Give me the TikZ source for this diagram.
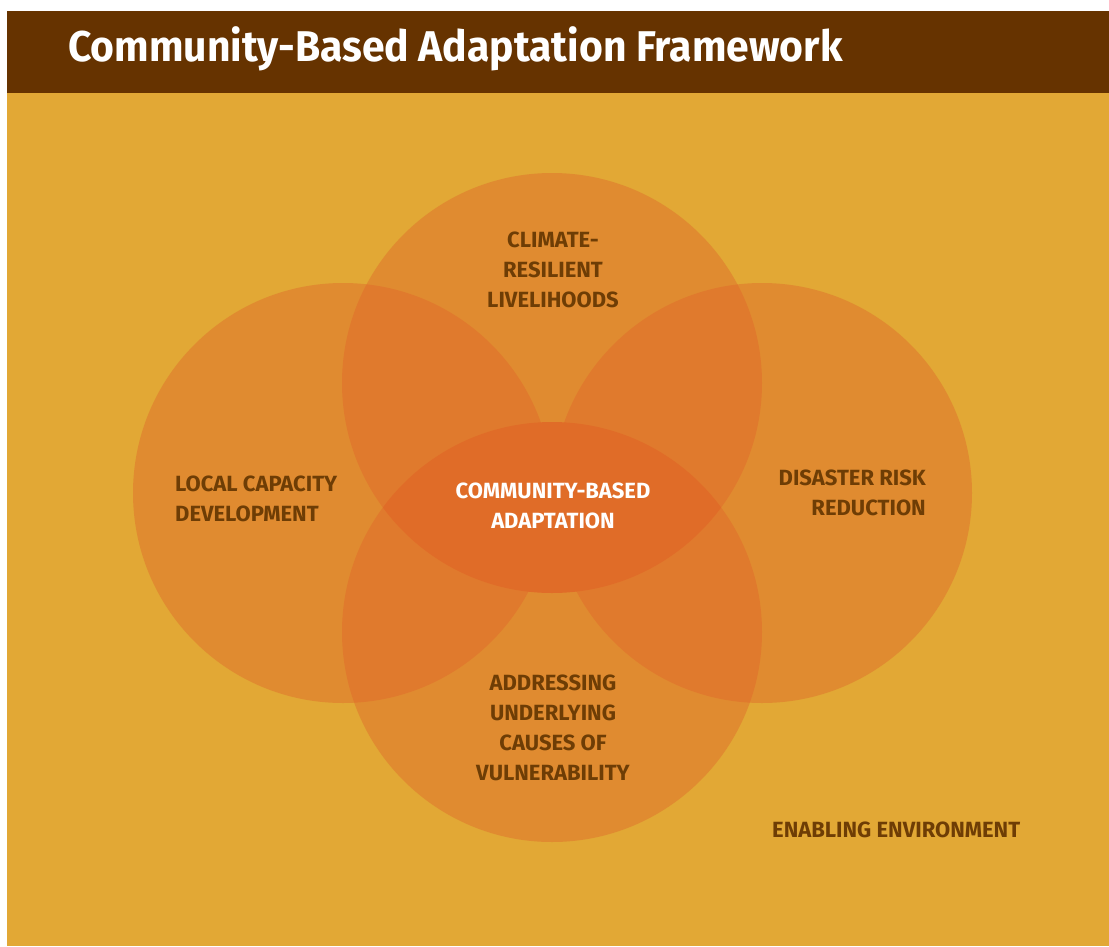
\documentclass[tikz,border=0pt]{standalone}
\usepackage{fontspec}
\setmainfont{Fira Sans}
\newfontfamily\headfont{Fira Sans}[FakeStretch=0.95]
\usetikzlibrary{positioning}
\definecolor{framebrown}{HTML}{663300}
\definecolor{bgyellow}{HTML}{E2A835}
\definecolor{ringorange}{HTML}{E08B30}
\definecolor{overlaporange}{HTML}{E07A2D}
\definecolor{coreorange}{HTML}{E06C28}
\definecolor{textbrown}{HTML}{6E3D05}
\tikzstyle{titletext} = [text=white, font=\headfont\bfseries\fontsize{43}{50}\selectfont, inner sep=0pt]
\tikzstyle{ringtext} = [text=textbrown, font=\bfseries\fontsize{22}{30}\selectfont, align=center, inner sep=0pt]
\def\ringr{210pt}

\begin{document}
\begin{tikzpicture}[x=1pt, y=-1pt]
  \useasboundingbox (0,0) rectangle (1109,946);
  \fill[white] (0,0) rectangle (1109,946);
  \fill[bgyellow] (7,93) rectangle (1109,946);
  \fill[framebrown] (7,11) rectangle (1109,93);
  \node[titletext, anchor=west] (title) at (68,49) {Community-Based Adaptation Framework};

  \coordinate (climate) at (552,383);
  \coordinate (capacity) at (343,493);
  \coordinate (risk) at (762,493);
  \coordinate (causes) at (552,632);

  % the four rings
  \foreach \p in {climate,capacity,risk,causes}
    \fill[ringorange] (\p) circle (\ringr);
  % where two rings meet
  \foreach \a/\b in {climate/capacity,climate/risk,causes/capacity,causes/risk}{
    \begin{scope}
      \clip (\a) circle (\ringr);
      \fill[overlaporange] (\b) circle (\ringr);
    \end{scope}
  }
  % the core
  \begin{scope}
    \clip (climate) circle (\ringr);
    \fill[coreorange] (causes) circle (\ringr);
  \end{scope}

  \node[ringtext] (climatetxt) at (553,270) {CLIMATE-\\RESILIENT\\LIVELIHOODS};
  \node[ringtext, align=left, anchor=west] (capacitytxt) at (175,499) {LOCAL CAPACITY\\DEVELOPMENT};
  \node[ringtext, align=right, anchor=east] (risktxt) at (926,493) {DISASTER RISK\\REDUCTION};
  \node[ringtext] (causestxt) at (553,728) {ADDRESSING\\UNDERLYING\\CAUSES OF\\VULNERABILITY};
  \node[ringtext, text=white] (coretxt) at (553,506) {COMMUNITY-BASED\\ADAPTATION};
  \node[ringtext, anchor=west] (envtxt) at (772,830) {ENABLING ENVIRONMENT};
\end{tikzpicture}
\end{document}
